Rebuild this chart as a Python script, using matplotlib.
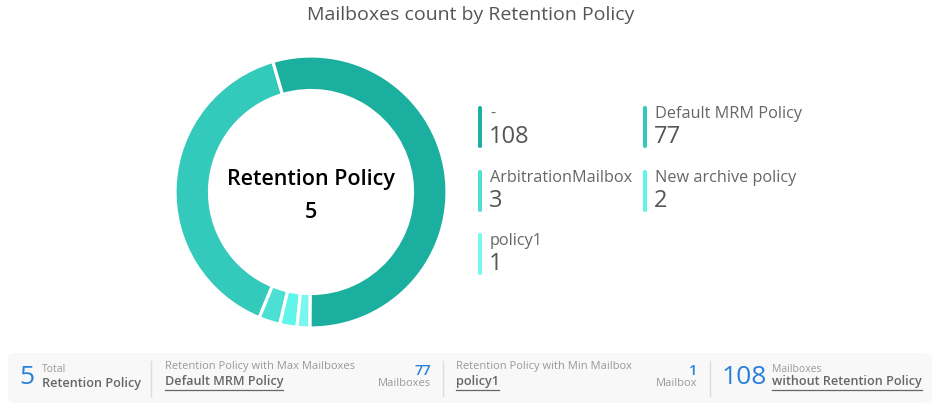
import numpy as np
import matplotlib.pyplot as plt
from matplotlib.patches import FancyBboxPatch

plt.rcParams['font.family'] = ['Open Sans', 'DejaVu Sans']

# data
policies = ['-', 'Default MRM Policy', 'ArbitrationMailbox', 'New archive policy', 'policy1']
counts = [108, 77, 3, 2, 1]
colors = ['#1aaf9f', '#33c9bb', '#4ddfd3', '#5ff5ea', '#7af6f0']
title = 'Mailboxes count by Retention Policy'
max_policy = 'Default MRM Policy'
max_count = 77
min_policy = 'policy1'
min_count = 1
without_policy = 108

W, H = 941, 413
fig = plt.figure(figsize=(W / 100, H / 100), dpi=100)
ax = fig.add_axes([0, 0, 1, 1])

def Y(y):
    return H - y

# donut: small slices get a little extra room so they stay visible
vals = np.array(counts, dtype=float)
shown = vals + vals.sum() * 0.011
order = [1, 2, 3, 4, 0]
ax.pie(shown[order], colors=[colors[i] for i in order], startangle=106.3,
       counterclock=True, center=(311, Y(192)), radius=136,
       wedgeprops=dict(width=34.5, edgecolor='white', linewidth=2.3))

ax.set_xlim(0, W)
ax.set_ylim(0, H)
ax.set_aspect('equal')
ax.axis('off')

ax.text(311, Y(179), 'Retention Policy', ha='center', va='center', fontsize=15.5,
        fontweight='semibold', color='#000')
ax.text(311, Y(212), str(len(policies)), ha='center', va='center', fontsize=15.5,
        fontweight='semibold', color='#000')

fig.text(0.5, 1 - 15 / H, title, ha='center', va='center', fontsize=14, color='#555')

# legend
slots = [(480, 106), (645, 106), (480, 170), (645, 170), (480, 233)]
for (lx, ly), name, c, col in zip(slots, policies, counts, colors):
    ax.add_patch(FancyBboxPatch((lx - 2, Y(ly + 42)), 4, 42,
                                boxstyle='round,pad=0,rounding_size=2',
                                fc=col, ec='none'))
    ax.text(lx + 10, Y(ly + 8), name, ha='left', va='center', fontsize=11.7, color='#666')
    ax.text(lx + 9, Y(ly + 31), str(c), ha='left', va='center', fontsize=17, color='#555')

# summary strip
ax.add_patch(FancyBboxPatch((8, Y(403)), 924, 50,
                            boxstyle='round,pad=0,rounding_size=6',
                            fc='#f8f8f8', ec='none'))
for dx in [151, 443, 710]:
    ax.plot([dx, dx], [Y(361), Y(396)], color='#dddddd', lw=1)

blue = '#2a80d8'
fig.canvas.draw()
rend = fig.canvas.get_renderer()

def underlined(x, y, s):
    t = ax.text(x, Y(y), s, ha='left', va='center', fontsize=9.1,
                fontweight='semibold', color='#666')
    bb = t.get_window_extent(renderer=rend)
    ax.plot([bb.x0, bb.x1], [Y(y + 7.5), Y(y + 7.5)], color='#666', lw=0.9)

ax.text(19, Y(378), str(len(policies)), ha='left', va='center', fontsize=19, color=blue)
ax.text(42, Y(370), 'Total', ha='left', va='center', fontsize=7.5, color='#999')
ax.text(42, Y(383), 'Retention Policy', ha='left', va='center', fontsize=9.1,
        fontweight='semibold', color='#666')

ax.text(165, Y(366), 'Retention Policy with Max Mailboxes', ha='left', va='center',
        fontsize=8, color='#999')
underlined(165, 382, max_policy)
ax.text(431, Y(371), str(max_count), ha='right', va='center', fontsize=10.5,
        fontweight='semibold', color=blue)
ax.text(431, Y(384), 'Mailboxes', ha='right', va='center', fontsize=8, color='#999')

ax.text(456, Y(366), 'Retention Policy with Min Mailbox', ha='left', va='center',
        fontsize=8, color='#999')
underlined(456, 382, min_policy)
ax.text(697, Y(371), str(min_count), ha='right', va='center', fontsize=10.5,
        fontweight='semibold', color=blue)
ax.text(697, Y(384), 'Mailbox', ha='right', va='center', fontsize=8, color='#999')

ax.text(722, Y(378), str(without_policy), ha='left', va='center', fontsize=19, color=blue)
ax.text(772, Y(370), 'Mailboxes', ha='left', va='center', fontsize=7.5, color='#999')
underlined(772, 382, 'without Retention Policy')

fig.savefig('out.png', dpi=100)
